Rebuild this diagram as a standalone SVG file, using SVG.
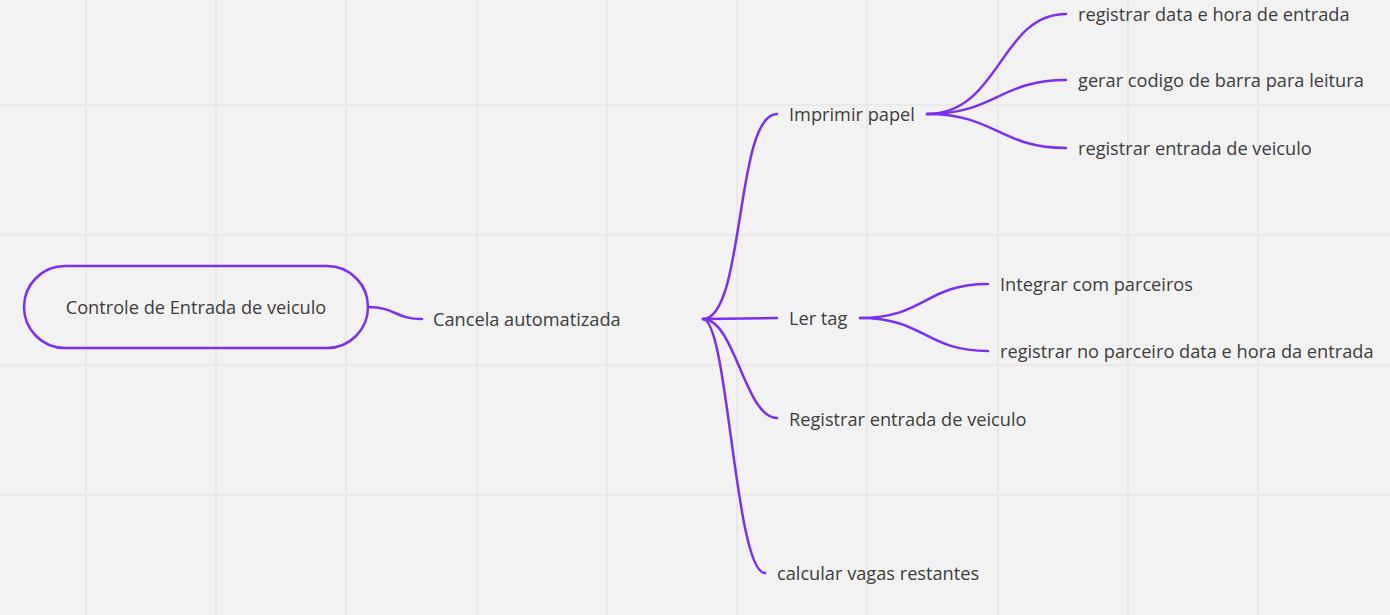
<svg xmlns="http://www.w3.org/2000/svg" width="1390" height="615" viewBox="0 0 1390 615">
<style>
.grid{stroke:#e6e6e6;stroke-width:1.5}
.c{fill:none;stroke:#7b2ff5;stroke-width:2.5;stroke-linecap:round}
.t{font-family:"Open Sans","Noto Sans",sans-serif;font-size:18.2px;fill:#3d3d3d;dominant-baseline:central}
</style>
<rect width="1390" height="615" fill="#f2f2f2"/>
<g id="grid">
<line class="grid" x1="86" y1="0" x2="86" y2="615"/>
<line class="grid" x1="216" y1="0" x2="216" y2="615"/>
<line class="grid" x1="346" y1="0" x2="346" y2="615"/>
<line class="grid" x1="477" y1="0" x2="477" y2="615"/>
<line class="grid" x1="607" y1="0" x2="607" y2="615"/>
<line class="grid" x1="737" y1="0" x2="737" y2="615"/>
<line class="grid" x1="867" y1="0" x2="867" y2="615"/>
<line class="grid" x1="998" y1="0" x2="998" y2="615"/>
<line class="grid" x1="1128" y1="0" x2="1128" y2="615"/>
<line class="grid" x1="1258" y1="0" x2="1258" y2="615"/>
<line class="grid" x1="0" y1="105" x2="1390" y2="105"/>
<line class="grid" x1="0" y1="235" x2="1390" y2="235"/>
<line class="grid" x1="0" y1="365" x2="1390" y2="365"/>
<line class="grid" x1="0" y1="495" x2="1390" y2="495"/>
</g>
<g id="connectors">
<path class="c" d="M368,307 C395,307 395,319 422,319"/>
<path class="c" d="M703,319 C745,319 735,114 777,114"/>
<path class="c" d="M703,319 L777,318"/>
<path class="c" d="M703,319 C735,319 745,418 777,418"/>
<path class="c" d="M703,319 C728,319 735,573 765,573"/>
<path class="c" d="M927,114 C1000,114 1000,14 1066,14"/>
<path class="c" d="M927,114 C995,114 1000,80 1066,80"/>
<path class="c" d="M927,114 C995,114 1000,148 1066,148"/>
<path class="c" d="M860,318 C925,318 925,284 988,284"/>
<path class="c" d="M860,318 C925,318 925,351 988,351"/>
</g>
<g id="root">
<rect x="24" y="266" width="344" height="82" rx="41" fill="none" stroke="#7b2ff5" stroke-width="2.5"/>
<text class="t" x="196" y="307" text-anchor="middle">Controle de Entrada de veiculo</text>
</g>
<g id="cancela"><text class="t" x="433" y="319">Cancela automatizada</text></g>
<g id="imprimir"><text class="t" x="789" y="114">Imprimir papel</text></g>
<g id="registrar-data"><text class="t" x="1078" y="14">registrar data e hora de entrada</text></g>
<g id="gerar-codigo"><text class="t" x="1078" y="80">gerar codigo de barra para leitura</text></g>
<g id="registrar-entrada-1"><text class="t" x="1078" y="148">registrar entrada de veiculo</text></g>
<g id="ler-tag"><text class="t" x="789" y="318">Ler tag</text></g>
<g id="integrar"><text class="t" x="1000" y="284">Integrar com parceiros</text></g>
<g id="registrar-parceiro"><text class="t" x="1000" y="351">registrar no parceiro data e hora da entrada</text></g>
<g id="registrar-entrada-2"><text class="t" x="789" y="419">Registrar entrada de veiculo</text></g>
<g id="calcular"><text class="t" x="777" y="573">calcular vagas restantes</text></g>
</svg>
